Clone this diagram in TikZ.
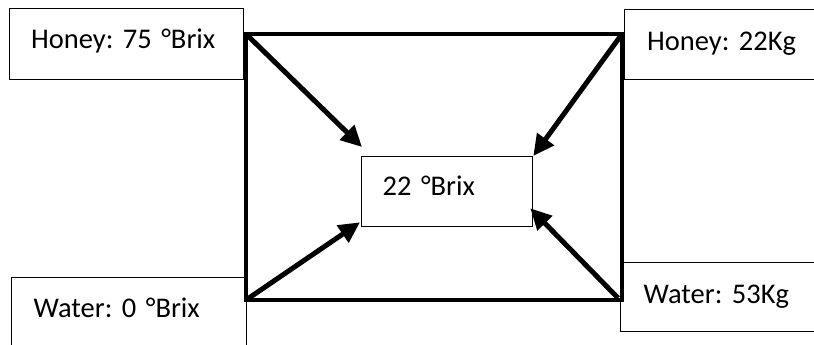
\documentclass[tikz,border=0pt]{standalone}
\usepackage{fontspec}
\setmainfont{Carlito}
\usetikzlibrary{arrows.meta,calc}
\frenchspacing

\tikzset{
  databox/.style={draw, line width=1.3pt, anchor=north west, inner ysep=0pt,
    align=left, font=\fontsize{28.5}{30}\selectfont},
  frame/.style={line width=4.5pt, line join=miter},
  flow/.style={line width=5pt, -{Triangle[length=21pt,width=20pt]}}
}

\begin{document}
\begin{tikzpicture}[x=1pt,y=-1pt]
  \clip (0,0) rectangle (814,345);
  \useasboundingbox (0,0) rectangle (814,345);

  % corners of the mixing frame
  \coordinate (tl) at (246,34);
  \coordinate (tr) at (622,34);
  \coordinate (br) at (622,300);
  \coordinate (bl) at (246,300);

  % input and output boxes
  \node[databox, inner xsep=21.5pt, text width=191pt, text height=40pt, text depth=31pt]
    (honeyBrix) at (9,8) {Honey: 75 °Brix};
  \node[databox, inner xsep=22.5pt, text width=185pt, text height=41pt, text depth=29pt]
    (honeyKg) at (624,9) {Honey: 22Kg};
  \node[databox, inner xsep=22pt, text width=191pt, text height=40pt, text depth=43pt]
    (waterBrix) at (11,277) {Water: 0 °Brix};
  \node[databox, inner xsep=23pt, text width=184pt, text height=41pt, text depth=28pt]
    (waterKg) at (620,262) {Water: 53Kg};

  % mixture
  \node[databox, inner xsep=21pt, text width=129pt, text height=39pt, text depth=31pt]
    (mix) at (361,156) {22 °Brix};

  % frame joining the four corners
  \draw[frame] (tl) -- (tr) -- (br) -- (bl) -- cycle;

  % flows into the mixture
  \draw[flow] (tl) -- ($(mix.north west)+(1,-9)$);
  \draw[flow] (tr) -- (mix.north east);
  \draw[flow] (bl) -- ($(mix.south west)+(-1,-5)$);
  \draw[flow] ($(br)+(-4,-2)$) -- ($(mix.south east)+(-3,-19)$);
\end{tikzpicture}
\end{document}
